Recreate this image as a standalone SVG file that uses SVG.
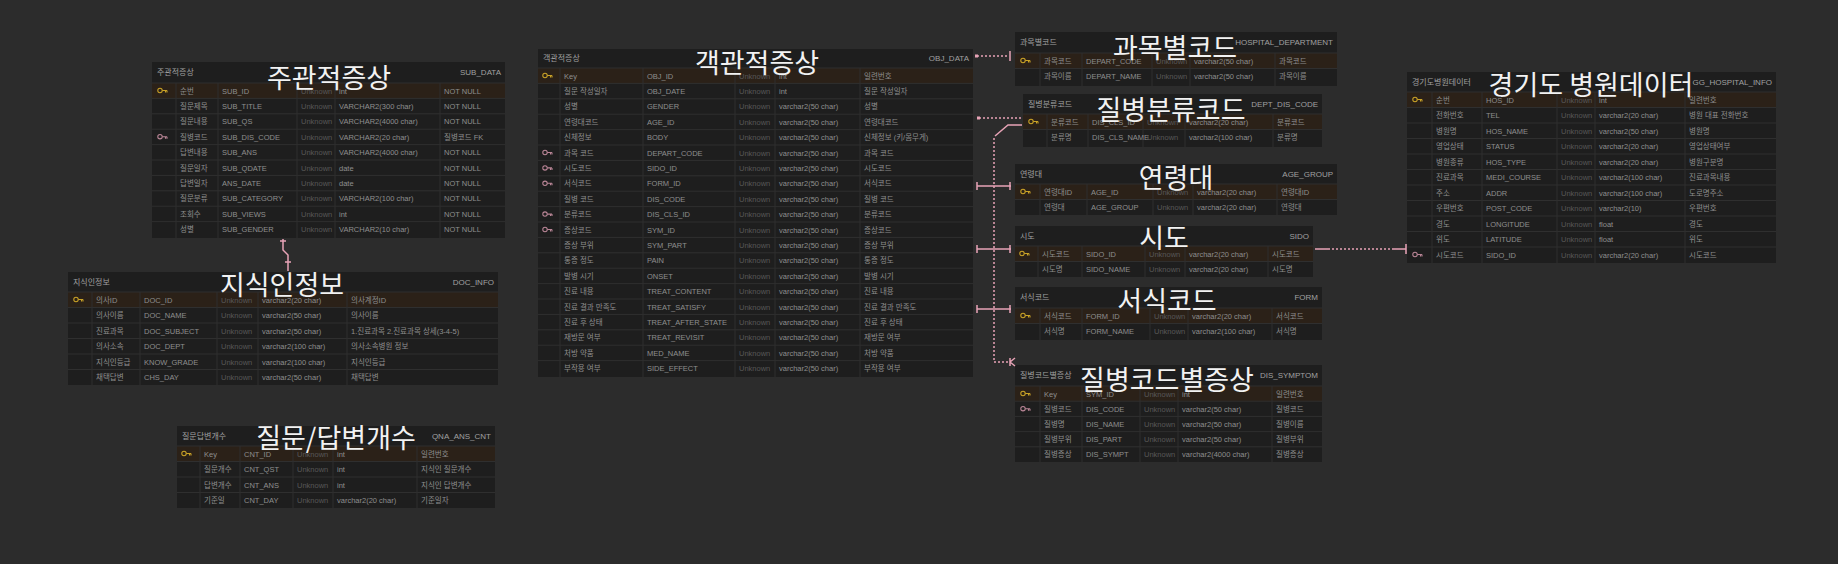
<svg xmlns="http://www.w3.org/2000/svg" xmlns:xlink="http://www.w3.org/1999/xlink" width="1838" height="564" viewBox="0 0 1838 564">
<style>
.tb{fill:#1e1e1e}
.pr{fill:#2b2118}
.gl{stroke:#2f2f2f;stroke-width:1;fill:none}
.c{font-family:"Liberation Sans","Noto Sans CJK KR",sans-serif;font-size:7.5px;fill:#8e8e8e}
.d{font-family:"Liberation Sans","Noto Sans CJK KR",sans-serif;font-size:7.5px;fill:#585858}
.h{font-family:"Liberation Sans","Noto Sans CJK KR",sans-serif;font-size:8px;fill:#a0a0a0}
.he{font-family:"Liberation Sans","Noto Sans CJK KR",sans-serif;font-size:8px;fill:#a0a0a0;text-anchor:end}
.ti{font-family:"Noto Sans CJK KR","Noto Sans",sans-serif;font-size:27px;fill:#f2f2f2;text-anchor:middle}
.cn{stroke:#e7a3b6;stroke-width:1.5;fill:none}
.cd{stroke:#e7a3b6;stroke-width:1.5;fill:none;stroke-dasharray:2 2}
</style>
<defs>
<g id="pk" stroke="#c9a227" stroke-width="1.1" fill="none"><circle cx="0" cy="0" r="2.2"/><path d="M2.2,0H7M5.5,0V2M7,0V2"/></g>
<g id="fk" stroke="#b98596" stroke-width="1.1" fill="none"><circle cx="0" cy="0" r="2.2"/><path d="M2.2,0H7M5.5,0V2M7,0V2"/></g>
</defs>
<rect width="1838" height="564" fill="#2c2c2c"/>

<!-- 주관적증상 -->
<g id="sub-data" transform="translate(152,62)">
<rect class="tb" width="353" height="176"/>
<rect class="pr" y="21" width="353" height="15.4"/>
<path class="gl" d="M0,21H353M0,36.4H353M0,51.8H353M0,67.2H353M0,82.6H353M0,98H353M0,113.4H353M0,128.8H353M0,144.2H353M0,159.6H353M24,21V176M66,21V176M145,21V176M183,21V176M288,21V176"/>
<text class="h" x="5" y="13">주관적증상</text><text class="he" x="349" y="13">SUB_DATA</text>
<use href="#pk" x="8" y="28.5"/><use href="#fk" x="8" y="74.7"/>
<text class="c" x="28" y="31.5">순번</text><text class="c" x="70" y="31.5">SUB_ID</text><text class="d" x="149" y="31.5">Unknown</text><text class="c" x="187" y="31.5">int</text><text class="c" x="292" y="31.5">NOT NULL</text>
<text class="c" x="28" y="46.9">질문제목</text><text class="c" x="70" y="46.9">SUB_TITLE</text><text class="d" x="149" y="46.9">Unknown</text><text class="c" x="187" y="46.9">VARCHAR2(300 char)</text><text class="c" x="292" y="46.9">NOT NULL</text>
<text class="c" x="28" y="62.3">질문내용</text><text class="c" x="70" y="62.3">SUB_QS</text><text class="d" x="149" y="62.3">Unknown</text><text class="c" x="187" y="62.3">VARCHAR2(4000 char)</text><text class="c" x="292" y="62.3">NOT NULL</text>
<text class="c" x="28" y="77.7">질병코드</text><text class="c" x="70" y="77.7">SUB_DIS_CODE</text><text class="d" x="149" y="77.7">Unknown</text><text class="c" x="187" y="77.7">VARCHAR2(20 char)</text><text class="c" x="292" y="77.7">질병코드 FK</text>
<text class="c" x="28" y="93.1">답변내용</text><text class="c" x="70" y="93.1">SUB_ANS</text><text class="d" x="149" y="93.1">Unknown</text><text class="c" x="187" y="93.1">VARCHAR2(4000 char)</text><text class="c" x="292" y="93.1">NOT NULL</text>
<text class="c" x="28" y="108.5">질문일자</text><text class="c" x="70" y="108.5">SUB_QDATE</text><text class="d" x="149" y="108.5">Unknown</text><text class="c" x="187" y="108.5">date</text><text class="c" x="292" y="108.5">NOT NULL</text>
<text class="c" x="28" y="123.9">답변일자</text><text class="c" x="70" y="123.9">ANS_DATE</text><text class="d" x="149" y="123.9">Unknown</text><text class="c" x="187" y="123.9">date</text><text class="c" x="292" y="123.9">NOT NULL</text>
<text class="c" x="28" y="139.3">질문분류</text><text class="c" x="70" y="139.3">SUB_CATEGORY</text><text class="d" x="149" y="139.3">Unknown</text><text class="c" x="187" y="139.3">VARCHAR2(100 char)</text><text class="c" x="292" y="139.3">NOT NULL</text>
<text class="c" x="28" y="154.7">조회수</text><text class="c" x="70" y="154.7">SUB_VIEWS</text><text class="d" x="149" y="154.7">Unknown</text><text class="c" x="187" y="154.7">int</text><text class="c" x="292" y="154.7">NOT NULL</text>
<text class="c" x="28" y="170.1">성별</text><text class="c" x="70" y="170.1">SUB_GENDER</text><text class="d" x="149" y="170.1">Unknown</text><text class="c" x="187" y="170.1">VARCHAR2(10 char)</text><text class="c" x="292" y="170.1">NOT NULL</text>
<text class="ti" x="177" y="26">주관적증상</text>
</g>

<!-- 지식인정보 -->
<g id="doc-info" transform="translate(68,272)">
<rect class="tb" width="430" height="113"/>
<rect class="pr" y="20" width="430" height="15.5"/>
<path class="gl" d="M0,20H430M0,35.5H430M0,51H430M0,66.5H430M0,82H430M0,97.5H430M24,20V113M72,20V113M149,20V113M190,20V113M279,20V113"/>
<text class="h" x="5" y="13">지식인정보</text><text class="he" x="426" y="13">DOC_INFO</text>
<use href="#pk" x="8" y="27.5"/>
<text class="c" x="28" y="30.5">의사ID</text><text class="c" x="76" y="30.5">DOC_ID</text><text class="d" x="153" y="30.5">Unknown</text><text class="c" x="194" y="30.5">varchar2(20 char)</text><text class="c" x="283" y="30.5">의사계정ID</text>
<text class="c" x="28" y="46">의사이름</text><text class="c" x="76" y="46">DOC_NAME</text><text class="d" x="153" y="46">Unknown</text><text class="c" x="194" y="46">varchar2(50 char)</text><text class="c" x="283" y="46">의사이름</text>
<text class="c" x="28" y="61.5">진료과목</text><text class="c" x="76" y="61.5">DOC_SUBJECT</text><text class="d" x="153" y="61.5">Unknown</text><text class="c" x="194" y="61.5">varchar2(50 char)</text><text class="c" x="283" y="61.5">1.진료과목 2.진료과목 상세(3-4-5)</text>
<text class="c" x="28" y="77">의사소속</text><text class="c" x="76" y="77">DOC_DEPT</text><text class="d" x="153" y="77">Unknown</text><text class="c" x="194" y="77">varchar2(100 char)</text><text class="c" x="283" y="77">의사소속병원 정보</text>
<text class="c" x="28" y="92.5">지식인등급</text><text class="c" x="76" y="92.5">KNOW_GRADE</text><text class="d" x="153" y="92.5">Unknown</text><text class="c" x="194" y="92.5">varchar2(100 char)</text><text class="c" x="283" y="92.5">지식인등급</text>
<text class="c" x="28" y="108">채택답변</text><text class="c" x="76" y="108">CHS_DAY</text><text class="d" x="153" y="108">Unknown</text><text class="c" x="194" y="108">varchar2(50 char)</text><text class="c" x="283" y="108">채택답변</text>
<text class="ti" x="214" y="23">지식인정보</text>
</g>

<!-- 질문/답변개수 -->
<g id="qna-cnt" transform="translate(177,426)">
<rect class="tb" width="318" height="82"/>
<rect class="pr" y="20" width="318" height="15.5"/>
<path class="gl" d="M0,20H318M0,35.5H318M0,51H318M0,66.5H318M23,20V82M63,20V82M116,20V82M156,20V82M240,20V82"/>
<text class="h" x="5" y="13">질문답변개수</text><text class="he" x="314" y="13">QNA_ANS_CNT</text>
<use href="#pk" x="7" y="27.5"/>
<text class="c" x="27" y="30.5">Key</text><text class="c" x="67" y="30.5">CNT_ID</text><text class="d" x="120" y="30.5">Unknown</text><text class="c" x="160" y="30.5">int</text><text class="c" x="244" y="30.5">일련번호</text>
<text class="c" x="27" y="46">질문개수</text><text class="c" x="67" y="46">CNT_QST</text><text class="d" x="120" y="46">Unknown</text><text class="c" x="160" y="46">int</text><text class="c" x="244" y="46">지식인 질문개수</text>
<text class="c" x="27" y="61.5">답변개수</text><text class="c" x="67" y="61.5">CNT_ANS</text><text class="d" x="120" y="61.5">Unknown</text><text class="c" x="160" y="61.5">int</text><text class="c" x="244" y="61.5">지식인 답변개수</text>
<text class="c" x="27" y="77">기준일</text><text class="c" x="67" y="77">CNT_DAY</text><text class="d" x="120" y="77">Unknown</text><text class="c" x="160" y="77">varchar2(20 char)</text><text class="c" x="244" y="77">기준일자</text>
<text class="ti" x="159" y="22">질문/답변개수</text>
</g>

<!-- 객관적증상 -->
<g id="obj-data" transform="translate(538,49)">
<rect class="tb" width="435" height="328"/>
<rect class="pr" y="19" width="435" height="15.4"/>
<path class="gl" d="M0,19H435M0,34.4H435M0,49.8H435M0,65.2H435M0,80.6H435M0,96H435M0,111.4H435M0,126.8H435M0,142.2H435M0,157.6H435M0,173H435M0,188.4H435M0,203.8H435M0,219.2H435M0,234.6H435M0,250H435M0,265.4H435M0,280.8H435M0,296.2H435M0,311.6H435M22,19V328M105,19V328M197,19V328M237,19V328M322,19V328"/>
<text class="h" x="5" y="12">객관적증상</text><text class="he" x="431" y="12">OBJ_DATA</text>
<use href="#pk" x="7" y="26.5"/><use href="#fk" x="7" y="103.5"/><use href="#fk" x="7" y="118.9"/><use href="#fk" x="7" y="134.3"/><use href="#fk" x="7" y="165.1"/><use href="#fk" x="7" y="180.5"/>
<text class="c" x="26" y="29.5">Key</text><text class="c" x="109" y="29.5">OBJ_ID</text><text class="d" x="201" y="29.5">Unknown</text><text class="c" x="241" y="29.5">int</text><text class="c" x="326" y="29.5">일련번호</text>
<text class="c" x="26" y="44.9">질문 작성일자</text><text class="c" x="109" y="44.9">OBJ_DATE</text><text class="d" x="201" y="44.9">Unknown</text><text class="c" x="241" y="44.9">int</text><text class="c" x="326" y="44.9">질문 작성일자</text>
<text class="c" x="26" y="60.3">성별</text><text class="c" x="109" y="60.3">GENDER</text><text class="d" x="201" y="60.3">Unknown</text><text class="c" x="241" y="60.3">varchar2(50 char)</text><text class="c" x="326" y="60.3">성별</text>
<text class="c" x="26" y="75.7">연령대코드</text><text class="c" x="109" y="75.7">AGE_ID</text><text class="d" x="201" y="75.7">Unknown</text><text class="c" x="241" y="75.7">varchar2(50 char)</text><text class="c" x="326" y="75.7">연령대코드</text>
<text class="c" x="26" y="91.1">신체정보</text><text class="c" x="109" y="91.1">BODY</text><text class="d" x="201" y="91.1">Unknown</text><text class="c" x="241" y="91.1">varchar2(50 char)</text><text class="c" x="326" y="91.1">신체정보 (키/몸무게)</text>
<text class="c" x="26" y="106.5">과목 코드</text><text class="c" x="109" y="106.5">DEPART_CODE</text><text class="d" x="201" y="106.5">Unknown</text><text class="c" x="241" y="106.5">varchar2(50 char)</text><text class="c" x="326" y="106.5">과목 코드</text>
<text class="c" x="26" y="121.9">시도코드</text><text class="c" x="109" y="121.9">SIDO_ID</text><text class="d" x="201" y="121.9">Unknown</text><text class="c" x="241" y="121.9">varchar2(50 char)</text><text class="c" x="326" y="121.9">시도코드</text>
<text class="c" x="26" y="137.3">서식코드</text><text class="c" x="109" y="137.3">FORM_ID</text><text class="d" x="201" y="137.3">Unknown</text><text class="c" x="241" y="137.3">varchar2(50 char)</text><text class="c" x="326" y="137.3">서식코드</text>
<text class="c" x="26" y="152.7">질병 코드</text><text class="c" x="109" y="152.7">DIS_CODE</text><text class="d" x="201" y="152.7">Unknown</text><text class="c" x="241" y="152.7">varchar2(50 char)</text><text class="c" x="326" y="152.7">질병 코드</text>
<text class="c" x="26" y="168.1">분류코드</text><text class="c" x="109" y="168.1">DIS_CLS_ID</text><text class="d" x="201" y="168.1">Unknown</text><text class="c" x="241" y="168.1">varchar2(50 char)</text><text class="c" x="326" y="168.1">분류코드</text>
<text class="c" x="26" y="183.5">증상코드</text><text class="c" x="109" y="183.5">SYM_ID</text><text class="d" x="201" y="183.5">Unknown</text><text class="c" x="241" y="183.5">varchar2(50 char)</text><text class="c" x="326" y="183.5">증상코드</text>
<text class="c" x="26" y="198.9">증상 부위</text><text class="c" x="109" y="198.9">SYM_PART</text><text class="d" x="201" y="198.9">Unknown</text><text class="c" x="241" y="198.9">varchar2(50 char)</text><text class="c" x="326" y="198.9">증상 부위</text>
<text class="c" x="26" y="214.3">통증 정도</text><text class="c" x="109" y="214.3">PAIN</text><text class="d" x="201" y="214.3">Unknown</text><text class="c" x="241" y="214.3">varchar2(50 char)</text><text class="c" x="326" y="214.3">통증 정도</text>
<text class="c" x="26" y="229.7">발병 시기</text><text class="c" x="109" y="229.7">ONSET</text><text class="d" x="201" y="229.7">Unknown</text><text class="c" x="241" y="229.7">varchar2(50 char)</text><text class="c" x="326" y="229.7">발병 시기</text>
<text class="c" x="26" y="245.1">진료 내용</text><text class="c" x="109" y="245.1">TREAT_CONTENT</text><text class="d" x="201" y="245.1">Unknown</text><text class="c" x="241" y="245.1">varchar2(50 char)</text><text class="c" x="326" y="245.1">진료 내용</text>
<text class="c" x="26" y="260.5">진료 결과 만족도</text><text class="c" x="109" y="260.5">TREAT_SATISFY</text><text class="d" x="201" y="260.5">Unknown</text><text class="c" x="241" y="260.5">varchar2(50 char)</text><text class="c" x="326" y="260.5">진료 결과 만족도</text>
<text class="c" x="26" y="275.9">진료 후 상태</text><text class="c" x="109" y="275.9">TREAT_AFTER_STATE</text><text class="d" x="201" y="275.9">Unknown</text><text class="c" x="241" y="275.9">varchar2(50 char)</text><text class="c" x="326" y="275.9">진료 후 상태</text>
<text class="c" x="26" y="291.3">재방문 여부</text><text class="c" x="109" y="291.3">TREAT_REVISIT</text><text class="d" x="201" y="291.3">Unknown</text><text class="c" x="241" y="291.3">varchar2(50 char)</text><text class="c" x="326" y="291.3">재방문 여부</text>
<text class="c" x="26" y="306.7">처방 약품</text><text class="c" x="109" y="306.7">MED_NAME</text><text class="d" x="201" y="306.7">Unknown</text><text class="c" x="241" y="306.7">varchar2(50 char)</text><text class="c" x="326" y="306.7">처방 약품</text>
<text class="c" x="26" y="322.1">부작용 여부</text><text class="c" x="109" y="322.1">SIDE_EFFECT</text><text class="d" x="201" y="322.1">Unknown</text><text class="c" x="241" y="322.1">varchar2(50 char)</text><text class="c" x="326" y="322.1">부작용 여부</text>
<text class="ti" x="219" y="24">객관적증상</text>
</g>

<!-- 과목별코드 -->
<g id="dept-code" transform="translate(1015,32)">
<rect class="tb" width="322" height="54"/>
<rect class="pr" y="21" width="322" height="15.5"/>
<path class="gl" d="M0,21H322M0,36.5H322M25,21V54M67,21V54M137,21V54M175,21V54M260,21V54"/>
<text class="h" x="5" y="13">과목별코드</text><text class="he" x="318" y="13">HOSPITAL_DEPARTMENT</text>
<use href="#pk" x="8" y="28.5"/>
<text class="c" x="29" y="31.5">과목코드</text><text class="c" x="71" y="31.5">DEPART_CODE</text><text class="d" x="141" y="31.5">Unknown</text><text class="c" x="179" y="31.5">varchar2(50 char)</text><text class="c" x="264" y="31.5">과목코드</text>
<text class="c" x="29" y="47">과목이름</text><text class="c" x="71" y="47">DEPART_NAME</text><text class="d" x="141" y="47">Unknown</text><text class="c" x="179" y="47">varchar2(50 char)</text><text class="c" x="264" y="47">과목이름</text>
<text class="ti" x="160" y="26">과목별코드</text>
</g>

<!-- 질병분류코드 -->
<g id="dis-cls" transform="translate(1023,94)">
<rect class="tb" width="299" height="53"/>
<rect class="pr" y="20" width="299" height="15.5"/>
<path class="gl" d="M0,20H299M0,35.5H299M24,20V53M65,20V53M120,20V53M162,20V53M250,20V53"/>
<text class="h" x="5" y="13">질병분류코드</text><text class="he" x="295" y="13">DEPT_DIS_CODE</text>
<use href="#pk" x="8" y="27.5"/>
<text class="c" x="28" y="30.5">분류코드</text><text class="c" x="69" y="30.5">DIS_CLS_ID</text><text class="d" x="124" y="30.5">Unknown</text><text class="c" x="166" y="30.5">varchar2(20 char)</text><text class="c" x="254" y="30.5">분류코드</text>
<text class="c" x="28" y="46">분류명</text><text class="c" x="69" y="46">DIS_CLS_NAME</text><text class="d" x="124" y="46">Unknown</text><text class="c" x="166" y="46">varchar2(100 char)</text><text class="c" x="254" y="46">분류명</text>
<text class="ti" x="148" y="26">질병분류코드</text>
</g>

<!-- 연령대 -->
<g id="age-group" transform="translate(1015,164)">
<rect class="tb" width="322" height="51"/>
<rect class="pr" y="20" width="322" height="15.5"/>
<path class="gl" d="M0,20H322M0,35.5H322M25,20V51M72,20V51M138,20V51M178,20V51M262,20V51"/>
<text class="h" x="5" y="13">연령대</text><text class="he" x="318" y="13">AGE_GROUP</text>
<use href="#pk" x="8" y="27.5"/>
<text class="c" x="29" y="30.5">연령대ID</text><text class="c" x="76" y="30.5">AGE_ID</text><text class="d" x="142" y="30.5">Unknown</text><text class="c" x="182" y="30.5">varchar2(20 char)</text><text class="c" x="266" y="30.5">연령대ID</text>
<text class="c" x="29" y="46">연령대</text><text class="c" x="76" y="46">AGE_GROUP</text><text class="d" x="142" y="46">Unknown</text><text class="c" x="182" y="46">varchar2(20 char)</text><text class="c" x="266" y="46">연령대</text>
<text class="ti" x="161" y="24">연령대</text>
</g>

<!-- 시도 -->
<g id="sido" transform="translate(1015,226)">
<rect class="tb" width="298" height="51"/>
<rect class="pr" y="20" width="298" height="15.5"/>
<path class="gl" d="M0,20H298M0,35.5H298M23,20V51M67,20V51M130,20V51M170,20V51M253,20V51"/>
<text class="h" x="5" y="13">시도</text><text class="he" x="294" y="13">SIDO</text>
<use href="#pk" x="7" y="27.5"/>
<text class="c" x="27" y="30.5">시도코드</text><text class="c" x="71" y="30.5">SIDO_ID</text><text class="d" x="134" y="30.5">Unknown</text><text class="c" x="174" y="30.5">varchar2(20 char)</text><text class="c" x="257" y="30.5">시도코드</text>
<text class="c" x="27" y="46">시도명</text><text class="c" x="71" y="46">SIDO_NAME</text><text class="d" x="134" y="46">Unknown</text><text class="c" x="174" y="46">varchar2(20 char)</text><text class="c" x="257" y="46">시도명</text>
<text class="ti" x="149" y="22">시도</text>
</g>

<!-- 서식코드 -->
<g id="form-code" transform="translate(1015,287)">
<rect class="tb" width="307" height="53"/>
<rect class="pr" y="21" width="307" height="15.5"/>
<path class="gl" d="M0,21H307M0,36.5H307M25,21V53M67,21V53M135,21V53M173,21V53M257,21V53"/>
<text class="h" x="5" y="13">서식코드</text><text class="he" x="303" y="13">FORM</text>
<use href="#pk" x="8" y="28.5"/>
<text class="c" x="29" y="31.5">서식코드</text><text class="c" x="71" y="31.5">FORM_ID</text><text class="d" x="139" y="31.5">Unknown</text><text class="c" x="177" y="31.5">varchar2(20 char)</text><text class="c" x="261" y="31.5">서식코드</text>
<text class="c" x="29" y="47">서식명</text><text class="c" x="71" y="47">FORM_NAME</text><text class="d" x="139" y="47">Unknown</text><text class="c" x="177" y="47">varchar2(100 char)</text><text class="c" x="261" y="47">서식명</text>
<text class="ti" x="152" y="24">서식코드</text>
</g>

<!-- 질병코드별증상 -->
<g id="dis-symptom" transform="translate(1015,365)">
<rect class="tb" width="307" height="97"/>
<rect class="pr" y="21" width="307" height="15.2"/>
<path class="gl" d="M0,21H307M0,36.2H307M0,51.4H307M0,66.6H307M0,81.8H307M25,21V97M67,21V97M125,21V97M163,21V97M257,21V97"/>
<text class="h" x="5" y="13">질병코드별증상</text><text class="he" x="303" y="13">DIS_SYMPTOM</text>
<use href="#pk" x="8" y="28.5"/><use href="#fk" x="8" y="43.7"/>
<text class="c" x="29" y="31.5">Key</text><text class="c" x="71" y="31.5">SYM_ID</text><text class="d" x="129" y="31.5">Unknown</text><text class="c" x="167" y="31.5">int</text><text class="c" x="261" y="31.5">일련번호</text>
<text class="c" x="29" y="46.7">질병코드</text><text class="c" x="71" y="46.7">DIS_CODE</text><text class="d" x="129" y="46.7">Unknown</text><text class="c" x="167" y="46.7">varchar2(50 char)</text><text class="c" x="261" y="46.7">질병코드</text>
<text class="c" x="29" y="61.9">질병명</text><text class="c" x="71" y="61.9">DIS_NAME</text><text class="d" x="129" y="61.9">Unknown</text><text class="c" x="167" y="61.9">varchar2(50 char)</text><text class="c" x="261" y="61.9">질병이름</text>
<text class="c" x="29" y="77.1">질병부위</text><text class="c" x="71" y="77.1">DIS_PART</text><text class="d" x="129" y="77.1">Unknown</text><text class="c" x="167" y="77.1">varchar2(50 char)</text><text class="c" x="261" y="77.1">질병부위</text>
<text class="c" x="29" y="92.3">질병증상</text><text class="c" x="71" y="92.3">DIS_SYMPT</text><text class="d" x="129" y="92.3">Unknown</text><text class="c" x="167" y="92.3">varchar2(4000 char)</text><text class="c" x="261" y="92.3">질병증상</text>
<text class="ti" x="152" y="25">질병코드별증상</text>
</g>

<!-- 경기도 병원데이터 -->
<g id="gg-hospital" transform="translate(1407,72)">
<rect class="tb" width="369" height="191"/>
<rect class="pr" y="20" width="369" height="15.5"/>
<path class="gl" d="M0,20H369M0,35.5H369M0,51H369M0,66.5H369M0,82H369M0,97.5H369M0,113H369M0,128.5H369M0,144H369M0,159.5H369M0,175H369M25,20V191M75,20V191M150,20V191M188,20V191M278,20V191"/>
<text class="h" x="5" y="13">경기도병원데이터</text><text class="he" x="365" y="13">GG_HOSPITAL_INFO</text>
<use href="#pk" x="8" y="27.5"/><use href="#fk" x="8" y="182.5"/>
<text class="c" x="29" y="30.5">순번</text><text class="c" x="79" y="30.5">HOS_ID</text><text class="d" x="154" y="30.5">Unknown</text><text class="c" x="192" y="30.5">int</text><text class="c" x="282" y="30.5">일련번호</text>
<text class="c" x="29" y="46">전화번호</text><text class="c" x="79" y="46">TEL</text><text class="d" x="154" y="46">Unknown</text><text class="c" x="192" y="46">varchar2(20 char)</text><text class="c" x="282" y="46">병원 대표 전화번호</text>
<text class="c" x="29" y="61.5">병원명</text><text class="c" x="79" y="61.5">HOS_NAME</text><text class="d" x="154" y="61.5">Unknown</text><text class="c" x="192" y="61.5">varchar2(50 char)</text><text class="c" x="282" y="61.5">병원명</text>
<text class="c" x="29" y="77">영업상태</text><text class="c" x="79" y="77">STATUS</text><text class="d" x="154" y="77">Unknown</text><text class="c" x="192" y="77">varchar2(20 char)</text><text class="c" x="282" y="77">영업상태여부</text>
<text class="c" x="29" y="92.5">병원종류</text><text class="c" x="79" y="92.5">HOS_TYPE</text><text class="d" x="154" y="92.5">Unknown</text><text class="c" x="192" y="92.5">varchar2(20 char)</text><text class="c" x="282" y="92.5">병원구분명</text>
<text class="c" x="29" y="108">진료과목</text><text class="c" x="79" y="108">MEDI_COURSE</text><text class="d" x="154" y="108">Unknown</text><text class="c" x="192" y="108">varchar2(100 char)</text><text class="c" x="282" y="108">진료과목내용</text>
<text class="c" x="29" y="123.5">주소</text><text class="c" x="79" y="123.5">ADDR</text><text class="d" x="154" y="123.5">Unknown</text><text class="c" x="192" y="123.5">varchar2(100 char)</text><text class="c" x="282" y="123.5">도로명주소</text>
<text class="c" x="29" y="139">우편번호</text><text class="c" x="79" y="139">POST_CODE</text><text class="d" x="154" y="139">Unknown</text><text class="c" x="192" y="139">varchar2(10)</text><text class="c" x="282" y="139">우편번호</text>
<text class="c" x="29" y="154.5">경도</text><text class="c" x="79" y="154.5">LONGITUDE</text><text class="d" x="154" y="154.5">Unknown</text><text class="c" x="192" y="154.5">float</text><text class="c" x="282" y="154.5">경도</text>
<text class="c" x="29" y="170">위도</text><text class="c" x="79" y="170">LATITUDE</text><text class="d" x="154" y="170">Unknown</text><text class="c" x="192" y="170">float</text><text class="c" x="282" y="170">위도</text>
<text class="c" x="29" y="185.5">시도코드</text><text class="c" x="79" y="185.5">SIDO_ID</text><text class="d" x="154" y="185.5">Unknown</text><text class="c" x="192" y="185.5">varchar2(20 char)</text><text class="c" x="282" y="185.5">시도코드</text>
<text class="ti" x="184" y="23">경기도 병원데이터</text>
</g>

<!-- connectors -->
<g id="connectors">
<path class="cd" d="M977,56H1009"/>
<rect x="975" y="54.5" width="3" height="3" fill="#e7a3b6"/>
<path class="cn" d="M1010,51V61"/>
<path class="cd" d="M979,118H1021"/>
<rect x="977" y="116.5" width="3" height="3" fill="#e7a3b6"/>
<path class="cn" d="M1022,125H1008L995,136"/>
<path class="cd" d="M994,138V362H1008"/>
<path class="cn" d="M1010,358V366M1010,362L1015,358M1010,362L1015,366"/>
<path class="cn" d="M977,186H1011M977,182V190M1010,182V190"/>
<path class="cn" d="M977,249H1011M977,245V253M1010,245V253"/>
<path class="cn" d="M977,309H1011M977,305V313M1010,305V313"/>
<path class="cn" d="M1315,249H1328M1392,249H1406M1406,244V254"/>
<path class="cd" d="M1328,249H1392"/>
<path class="cn" d="M280,241H286M283,239V250L288,255V271M285,262H291"/>
</g>
</svg>
